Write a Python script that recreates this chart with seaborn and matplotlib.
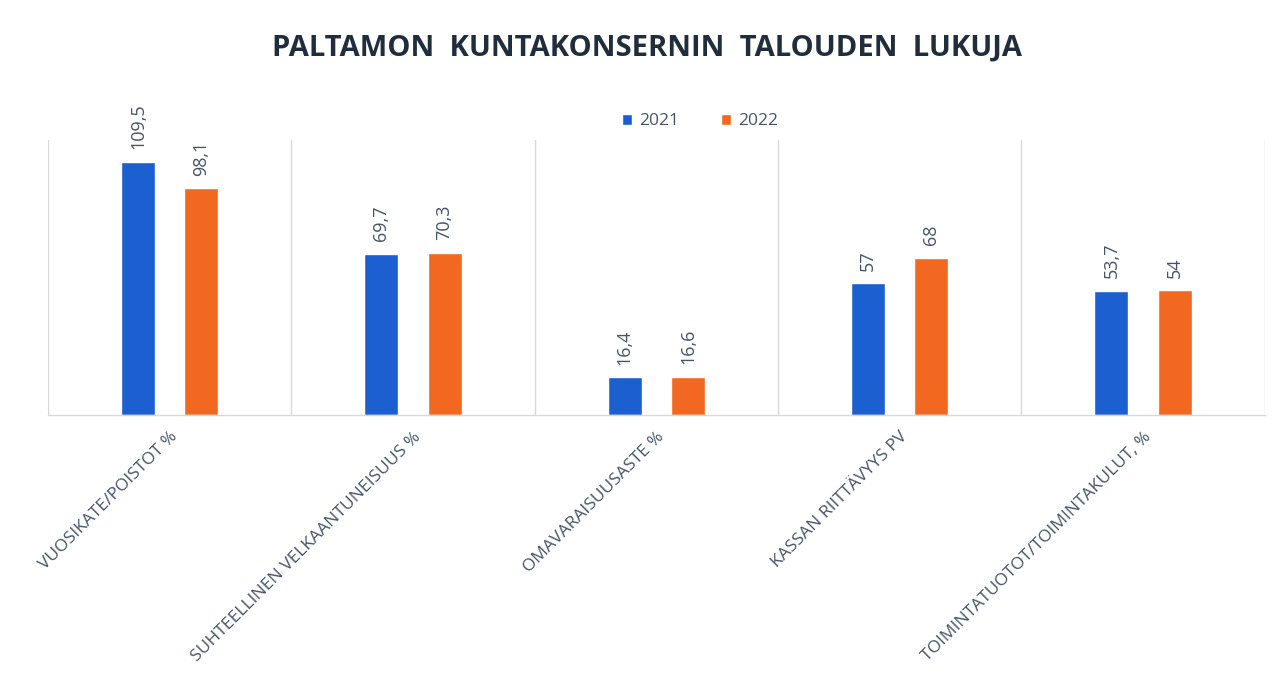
import matplotlib
matplotlib.use("Agg")
import matplotlib.pyplot as plt
import seaborn as sns
import pandas as pd

# ==========================================
# DATA
# ==========================================

categories = [
    "VUOSIKATE/POISTOT %",
    "SUHTEELLINEN VELKAANTUNEISUUS %",
    "OMAVARAISUUSASTE %",
    "KASSAN RIITTÄVYYS PV",
    "TOIMINTATUOTOT/TOIMINTAKULUT, %",
]
years = ["2021", "2022"]
values_2021 = [109.5, 69.7, 16.4, 57, 53.7]
values_2022 = [98.1, 70.3, 16.6, 68, 54]

df = pd.DataFrame({
    "category": categories * 2,
    "year": [years[0]] * 5 + [years[1]] * 5,
    "value": values_2021 + values_2022,
})

colors = {"2021": "#1C5FD0", "2022": "#F36820"}
text_col = "#44546A"

# ==========================================
# PLOT
# ==========================================

sns.set_style("white")
plt.rcParams["font.family"] = ["Open Sans", "DejaVu Sans"]

fig = plt.figure(figsize=(12.76, 6.86), dpi=100)
ax = fig.add_axes([0.0376, 0.395, 0.9535, 0.401])

sns.barplot(
    data=df,
    x="category",
    y="value",
    hue="year",
    palette=colors,
    saturation=1,
    width=0.52,
    gap=0.46,
    ax=ax,
    legend=True,
)

ax.set_ylim(0, 119)
ax.set_xlim(-0.5, 4.5)
ax.set_yticks([])
ax.set_xlabel("")
ax.set_ylabel("")

for s in ["top", "right", "left"]:
    ax.spines[s].set_visible(False)
ax.spines["bottom"].set_color("#D9D9D9")
ax.spines["bottom"].set_linewidth(1)

for xv in [-0.5, 0.5, 1.5, 2.5, 3.5, 4.5]:
    ax.axvline(xv, color="#D9D9D9", lw=1, zorder=0)

for cont in ax.containers:
    labels = [f"{v:g}".replace(".", ",") for v in cont.datavalues]
    ax.bar_label(
        cont,
        labels=labels,
        rotation=90,
        padding=9,
        fontsize=13,
        color=text_col,
    )

ax.tick_params(axis="x", length=0, pad=10)
ax.set_xticks(range(len(categories)))
ax.set_xticklabels(
    categories,
    rotation=45,
    ha="right",
    va="top",
    rotation_mode="anchor",
    fontsize=12.5,
    color=text_col,
)

leg = ax.legend(
    loc="center",
    bbox_to_anchor=(0.536, 1.068),
    ncol=2,
    frameon=False,
    fontsize=12.5,
    handlelength=0.6,
    handleheight=0.6,
    columnspacing=2.4,
    handletextpad=0.4,
)
for t in leg.get_texts():
    t.set_color(text_col)

fig.text(
    0.507,
    0.93,
    "PALTAMON  KUNTAKONSERNIN  TALOUDEN  LUKUJA",
    ha="center",
    va="center",
    fontsize=21,
    fontweight="bold",
    color="#1F2D3D",
)

fig.savefig("out.png", dpi=100)
plt.close(fig)
